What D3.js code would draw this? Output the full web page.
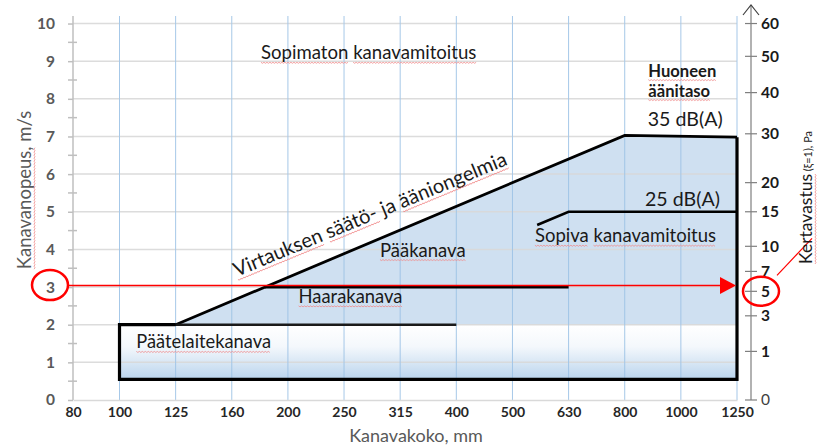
<!DOCTYPE html>
<html>
<head>
<meta charset="utf-8">
<script src="https://cdn.jsdelivr.net/npm/d3@7"></script>
<style>
body { margin: 0; background: #fff; }
text { font-family: Lato, "Open Sans", sans-serif; }
</style>
</head>
<body>
<div id="chart"></div>
<script>
const width = 817
const height = 447
const margin = {top: 16, bottom: 47, left: 73, right: 80}
const netWidth = width - margin.left - margin.right
const netHeight = height - margin.top - margin.bottom

// Data
const ductSizes = ["80", "100", "125", "160", "200", "250", "315", "400", "500", "630", "800", "1000", "1250"]
const speedTicks = [0, 1, 2, 3, 4, 5, 6, 7, 8, 9, 10]
const pressureTicks = [0, 1, 3, 5, 7, 10, 15, 20, 30, 40, 50, 60]
// upper limit of the main duct area: 125 -> 800 -> 1250 (index into ductSizes, speed m/s)
const mainLimit = [{i: 2, v: 2.0}, {i: 10, v: 7.03}, {i: 12, v: 6.98}]
// terminal duct box 100..1250
const terminalBox = {i0: 1, i1: 12, v0: 0.55, v1: 2.0}
const terminalTop = [{i: 1, v: 2.0}, {i: 7, v: 2.0}]
const branchLimit = {v: 3.0, iEnd: 9}
const db25Limit = [{i: 8.44, v: 4.65}, {i: 9, v: 5.0}, {i: 12, v: 5.0}]
const readSpeed = 3
const readPressure = 5

const svg = d3.select("div#chart").append("svg").attr("width", width).attr("height", height)
const g = svg.append("g").attr("transform", `translate(${margin.left}, ${margin.top})`)

const x = d3.scaleLinear().domain([0, 1, 12]).range([0, 46.5, netWidth])
const y = d3.scaleLinear().domain([0, 10.2]).range([netHeight, 0])
const yR = d3.scaleSqrt().domain([0, 60]).range([y(0), y(10)])

// spell-check style squiggle under words marked "sp"
function squiggle(textSel) {
    const node = textSel.node()
    const parent = d3.select(node.parentNode)
    let idx = 0
    textSel.selectAll("tspan").each(function() {
        const s = this.textContent
        if (this.getAttribute("class") === "sp") {
            const p0 = node.getStartPositionOfChar(idx)
            const x1 = node.getEndPositionOfChar(idx + s.length - 1).x
            const yb = p0.y + 3
            let d = `M${p0.x},${yb}`
            for (let xx = p0.x + 1.5, k = 0; xx <= x1; xx += 1.5, k++) d += `L${xx},${yb + (k % 2 ? 0 : 1)}`
            parent.append("path").attr("d", d).attr("transform", textSel.attr("transform"))
                .attr("fill", "none").attr("stroke", "#f08a8a").attr("stroke-width", 0.8)
        }
        idx += s.length
    })
}

// gradient for terminal box
const defs = svg.append("defs")
const grad = defs.append("linearGradient").attr("id", "termGrad").attr("x1", 0).attr("y1", 0).attr("x2", 0).attr("y2", 1)
grad.append("stop").attr("offset", "0%").attr("stop-color", "#ffffff")
grad.append("stop").attr("offset", "40%").attr("stop-color", "#f4f8fc")
grad.append("stop").attr("offset", "100%").attr("stop-color", "#bad4ed")

// areas
g.append("rect")
    .attr("x", x(terminalBox.i0)).attr("y", y(terminalBox.v1))
    .attr("width", x(terminalBox.i1) - x(terminalBox.i0))
    .attr("height", y(terminalBox.v0) - y(terminalBox.v1))
    .attr("fill", "url(#termGrad)")

const mainArea = mainLimit.concat([{i: 12, v: 2.0}])
g.append("path")
    .attr("d", d3.line().x(d => x(d.i)).y(d => y(d.v))(mainArea) + "Z")
    .attr("fill", "#cfe0f1")

// grid
const gridGroup = g.append("g").attr("opacity", 0.9)
gridGroup.selectAll("line.h").data(speedTicks.slice(1)).enter().append("line")
    .attr("x1", 0).attr("x2", x(12)).attr("y1", d => y(d)).attr("y2", d => y(d))
    .attr("stroke", "#d9d9d9").attr("stroke-width", 1.5)
gridGroup.selectAll("line.v").data(d3.range(1, 13)).enter().append("line")
    .attr("x1", d => x(d)).attr("x2", d => x(d)).attr("y1", y(10.2)).attr("y2", y(0))
    .attr("stroke", "#9dc3e6").attr("stroke-width", 1)

// axes
const xAxis = d3.axisBottom(x).tickValues(d3.range(13)).tickFormat(i => ductSizes[i]).tickSize(0).tickPadding(7)
const xAxisGroup = g.append("g").attr("transform", `translate(0, ${netHeight})`).call(xAxis)
xAxisGroup.select(".domain").attr("stroke", "#d9d9d9").attr("stroke-width", 1.5)
xAxisGroup.selectAll("text").attr("font-size", 14).attr("font-weight", "bold").attr("fill", "#262626")
    .attr("font-family", "Lato")

const yAxis = d3.axisLeft(y).tickValues(speedTicks).tickSize(5).tickPadding(13)
const yAxisGroup = g.append("g").call(yAxis)
yAxisGroup.select(".domain").attr("stroke", "#bfbfbf").attr("stroke-width", 1.5).attr("d", `M0,${y(10.2)}V${y(0)}`)
yAxisGroup.selectAll(".tick line").attr("stroke", "#bfbfbf").attr("stroke-width", 1.5)
yAxisGroup.selectAll("text").attr("font-size", 15.5).attr("font-weight", "bold").attr("fill", "#595959")
    .attr("font-family", "Lato")
yAxisGroup.selectAll("line.minor").data(d3.range(0.5, 10, 1)).enter().append("line")
    .attr("x1", -5).attr("x2", 4).attr("y1", d => y(d)).attr("y2", d => y(d))
    .attr("stroke", "#bfbfbf").attr("stroke-width", 1.5)

// right pressure axis
const rx = netWidth + 14
const rAxis = g.append("g").attr("transform", `translate(${rx}, 0)`)
rAxis.append("line").attr("x1", 0).attr("x2", 0).attr("y1", yR(0)).attr("y2", -11)
    .attr("stroke", "#7f7f7f").attr("stroke-width", 1.2)
rAxis.append("path").attr("d", "M-8,-1L0,-11L8,-1").attr("fill", "none").attr("stroke", "#404040").attr("stroke-width", 1.2)
const rTicks = rAxis.selectAll("g.tick").data(pressureTicks).enter().append("g")
    .attr("transform", d => `translate(0, ${yR(d)})`)
rTicks.append("line").attr("x1", -6).attr("x2", 6).attr("stroke", "#7f7f7f").attr("stroke-width", 1.2)
rTicks.append("text").attr("x", 10).attr("dy", "0.35em").text(d => d)
    .attr("font-size", 15.5).attr("font-weight", d => d === 0 ? "normal" : "bold")
    .attr("fill", d => d === 0 ? "#404040" : "#1a1a1a")

// axis titles
const lTitle = svg.append("text").attr("transform", "translate(31, 190) rotate(-90)").attr("text-anchor", "middle")
    .attr("font-size", 18.5).attr("fill", "#595959")
lTitle.append("tspan").attr("class", "sp").text("Kanavanopeus,")
lTitle.append("tspan").text(" m/s")
squiggle(lTitle)
svg.append("text").attr("x", 416).attr("y", 442).attr("text-anchor", "middle")
    .attr("font-size", 18).attr("fill", "#595959").text("Kanavakoko, mm")
const rTitle = svg.append("text").attr("transform", "translate(812, 264) rotate(-90)").attr("fill", "#1a1a1a")
rTitle.append("tspan").attr("class", "sp").attr("font-size", 17.5).text("Kertavastus")
rTitle.append("tspan").attr("font-size", 11).text(" (ξ=1), Pa")
squiggle(rTitle)

// limit lines
const line = d3.line().x(d => x(d.i)).y(d => y(d.v))
g.append("path").attr("d", line(mainLimit)).attr("fill", "none").attr("stroke", "#000").attr("stroke-width", 2.8)
g.append("path").attr("d", line(terminalTop)).attr("fill", "none").attr("stroke", "#1a1a1a").attr("stroke-width", 2.4)
g.append("path").attr("d", line(db25Limit)).attr("fill", "none").attr("stroke", "#000").attr("stroke-width", 2.6)
// branch line starts where the main limit reaches the branch speed
const a = mainLimit[0], b = mainLimit[1]
const branchStart = a.i + (branchLimit.v - a.v) / (b.v - a.v) * (b.i - a.i)
g.append("line").attr("x1", x(branchStart)).attr("x2", x(branchLimit.iEnd))
    .attr("y1", y(branchLimit.v)).attr("y2", y(branchLimit.v))
    .attr("stroke", "#000").attr("stroke-width", 3)
// terminal box outline (left, bottom, right up to main limit)
g.append("path")
    .attr("d", line([{i: 2, v: 2.0}, {i: 1, v: 2.0}, {i: 1, v: terminalBox.v0}, {i: 12, v: terminalBox.v0}, {i: 12, v: mainLimit[2].v}]))
    .attr("fill", "none").attr("stroke", "#000").attr("stroke-width", 3.2).attr("stroke-linejoin", "miter")

// labels
const label = (txt, px, py, size, opts = {}) => {
    const t = g.append("text").attr("x", px).attr("y", py).attr("font-size", size)
        .attr("fill", opts.fill || "#1a1a1a").attr("font-weight", opts.weight || "normal")
    if (opts.rotate) t.attr("transform", `rotate(${opts.rotate}, ${px}, ${py})`)
    const words = txt.split(" ")
    words.forEach((w, k) => {
        t.append("tspan").attr("class", opts.plain && opts.plain.includes(w) ? "pl" : "sp").text(w)
        if (k < words.length - 1) t.append("tspan").attr("class", "pl").text(" ")
    })
    squiggle(t)
    return t
}
label("Sopimaton kanavamitoitus", x(3.52), y(9.05), 18.6)
label("Huoneen", x(10.42), y(8.59), 16.6, {weight: "bold"})
label("äänitaso", x(10.42), y(8.06), 16.6, {weight: "bold"})
label("35 dB(A)", x(10.41), y(7.28), 19.6, {plain: ["35", "dB(A)"]})
label("25 dB(A)", x(10.36), y(5.15), 19.6, {plain: ["25", "dB(A)"]})
label("Sopiva kanavamitoitus", x(8.40), y(4.19), 18.5)
label("Pääkanava", x(5.64), y(3.81), 18.5)
label("Haarakanava", x(4.19), y(2.58), 18.4)
label("Päätelaitekanava", x(1.30), y(1.37), 18.3)
label("Virtauksen säätö- ja ääniongelmia", x(3.09), y(3.27), 20, {rotate: -22.5, plain: ["ja"]})

// red reading annotation
const red = "#ff0000"
g.append("ellipse").attr("cx", -23).attr("cy", y(readSpeed) - 2).attr("rx", 18).attr("ry", 15)
    .attr("fill", "none").attr("stroke", red).attr("stroke-width", 2.5)
g.append("line").attr("x1", -5).attr("x2", x(12) - 14).attr("y1", y(readSpeed) - 1.5).attr("y2", y(readSpeed) - 1.5)
    .attr("stroke", red).attr("stroke-width", 1.5)
g.append("path").attr("d", `M${x(12) - 17},${y(readSpeed) - 10}L${x(12) - 1},${y(readSpeed) - 1.5}L${x(12) - 17},${y(readSpeed) + 7}Z`)
    .attr("fill", red)
g.append("ellipse").attr("cx", rx + 10).attr("cy", yR(readPressure)).attr("rx", 18).attr("ry", 14.5)
    .attr("fill", "none").attr("stroke", red).attr("stroke-width", 2.5)
g.append("line").attr("x1", rx + 26).attr("y1", yR(readPressure) - 16).attr("x2", rx + 61).attr("y2", yR(readPressure) - 53)
    .attr("stroke", red).attr("stroke-width", 1.2)
</script>
</body>
</html>
